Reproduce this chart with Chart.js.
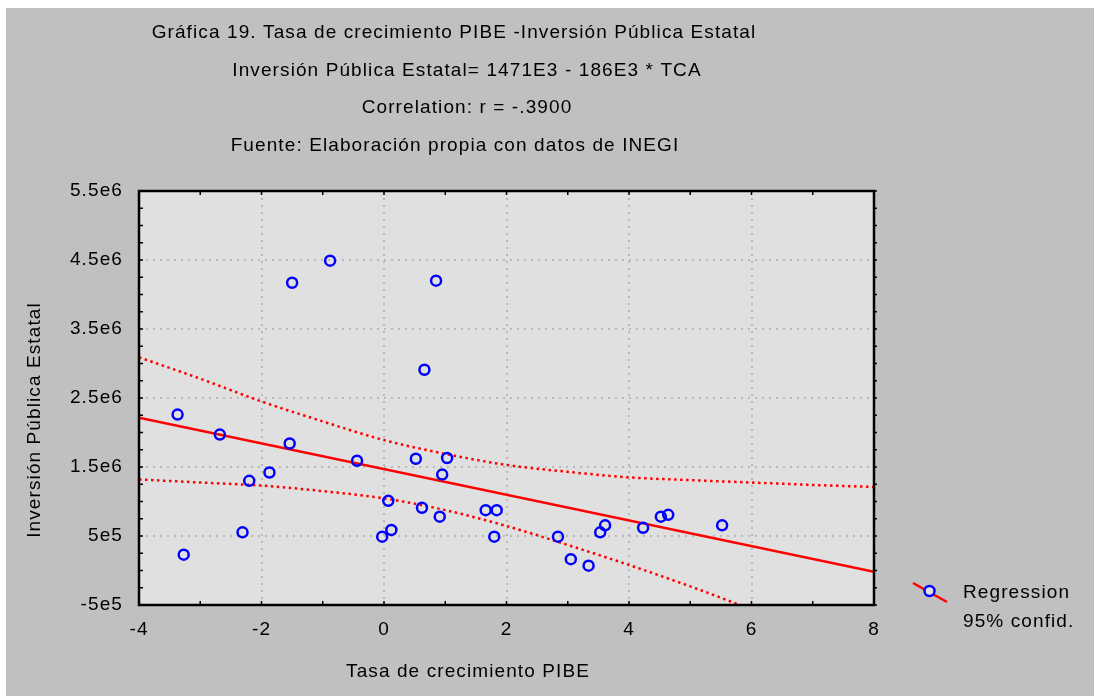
<!DOCTYPE html>
<html>
<head>
<meta charset="utf-8">
<script src="https://cdn.jsdelivr.net/npm/chart.js@4"></script>
<style>
  html, body { margin: 0; padding: 0; background: #ffffff; }
  #wrap { position: absolute; left: 6px; top: 8px; width: 1088px; height: 688px; background: #c0c0c0; }
</style>
</head>
<body>
<div id="wrap"><canvas id="chart" width="1088" height="688"></canvas></div>
<script>
  // observed values (Tasa de crecimiento PIBE vs Inversión Pública Estatal)
  const tcaValues = [-1.50, -0.88, 0.85, 0.66, -3.37, -2.68, -1.54, -0.44, 0.52, 1.03, 0.95, -1.87, -2.20, 0.07, 0.62, 0.91,
    1.66, 1.84, 1.80, -0.03, 0.12, -2.31, -3.27, 2.84, 3.05, 3.34, 3.53, 3.61, 4.23, 4.52, 4.64, 5.52];
  const inversionValues = [4170000, 4490000, 4200000, 2910000, 2260000, 1970000, 1840000, 1590000, 1620000, 1630000, 1390000,
    1420000, 1300000, 1010000, 910000, 780000, 875000, 875000, 490000, 490000, 587000, 553000, 230000, 490000, 164000,
    70000, 553000, 654000, 620000, 780000, 807000, 654000];

  // regression line end points
  const regX = [-4, 8];
  const regY = [2215000, -17000];

  // 95% confidence bands
  const upperX = [-4, -3, -2, -1, 0, 1, 2, 3, 4, 5, 6, 7, 8];
  const upperY = [3090000, 2780000, 2450000, 2160000, 1890000, 1690000, 1530000, 1430000, 1350000, 1310000, 1275000, 1240000, 1210000];
  const lowerX = [-4, -3, -2, -1, 0, 1, 2, 3, 4, 5, 5.75, 6.2];
  const lowerY = [1320000, 1275000, 1230000, 1150000, 1045000, 875000, 645000, 370000, 80000, -230000, -480000, -640000];

  const xTicks = [-4, -2, 0, 2, 4, 6, 8];
  const yTicks = [-500000, 500000, 1500000, 2500000, 3500000, 4500000, 5500000];
  const yTickLabels = ['-5e5', '5e5', '1.5e6', '2.5e6', '3.5e6', '4.5e6', '5.5e6'];

  const titleLines = [
    'Gráfica 19. Tasa de crecimiento PIBE -Inversión Pública Estatal',
    'Inversión Pública Estatal= 1471E3 - 186E3 * TCA',
    'Correlation: r = -.3900',
    'Fuente: Elaboración propia con datos de INEGI'
  ];
  const xTitle = 'Tasa de crecimiento PIBE';
  const yTitle = 'Inversión Pública Estatal';
  const legendLabels = ['Regression', '95% confid.'];

  const FONT = '"Liberation Sans", Arial, sans-serif';
  const FONT_SIZE = 19;
  const SPACING = '1.1px';
  const toXY = (xs, ys) => xs.map((x, i) => ({ x, y: ys[i] }));

  const decor = {
    id: 'decor',
    beforeDraw (chart) {
      const { ctx, chartArea: a } = chart;
      ctx.letterSpacing = SPACING;
      ctx.save();
      ctx.fillStyle = '#e0e0e0';
      ctx.fillRect(a.left, a.top, a.right - a.left, a.bottom - a.top);
      ctx.restore();
    },
    afterDraw (chart) {
      const { ctx, chartArea: a } = chart;
      const xs = chart.scales.x;
      const ys = chart.scales.y;
      ctx.save();
      ctx.letterSpacing = SPACING;

      // frame + little inner ticks
      ctx.strokeStyle = '#000';
      ctx.lineWidth = 2.5;
      ctx.strokeRect(a.left, a.top, a.right - a.left, a.bottom - a.top);
      ctx.lineWidth = 1.5;
      ctx.beginPath();
      for (let v = -4; v <= 8; v += 1) {
        const px = xs.getPixelForValue(v);
        ctx.moveTo(px, a.bottom); ctx.lineTo(px, a.bottom - 4);
        ctx.moveTo(px, a.top); ctx.lineTo(px, a.top + 4);
      }
      for (let v = -500000; v <= 5500000; v += 250000) {
        const py = ys.getPixelForValue(v);
        ctx.moveTo(a.left, py); ctx.lineTo(a.left + 4, py);
        ctx.moveTo(a.right, py); ctx.lineTo(a.right + 3, py);
      }
      ctx.stroke();

      // titles
      ctx.fillStyle = '#000';
      ctx.font = FONT_SIZE + 'px ' + FONT;
      ctx.textAlign = 'center';
      ctx.textBaseline = 'middle';
      const centers = [448, 461, 461, 449];
      const rows = [25, 63, 100, 138];
      titleLines.forEach((t, i) => ctx.fillText(t, centers[i], rows[i]));

      ctx.fillText(xTitle, 462, 664);
      ctx.save();
      ctx.translate(29, 412);
      ctx.rotate(-Math.PI / 2);
      ctx.fillText(yTitle, 0, 0);
      ctx.restore();

      // legend
      ctx.strokeStyle = '#ff0000';
      ctx.lineWidth = 2.5;
      ctx.beginPath();
      ctx.moveTo(907, 575); ctx.lineTo(941, 594);
      ctx.stroke();
      ctx.beginPath();
      ctx.arc(923.5, 583, 5, 0, Math.PI * 2);
      ctx.fillStyle = '#e0e0e0';
      ctx.fill();
      ctx.strokeStyle = '#0000ff';
      ctx.stroke();
      ctx.fillStyle = '#000';
      ctx.textAlign = 'left';
      ctx.fillText(legendLabels[0], 957, 585);
      ctx.fillText(legendLabels[1], 957, 614);
      ctx.restore();
    }
  };

  const lineDefaults = { showLine: true, pointRadius: 0, fill: false, borderColor: '#ff0000' };

  new Chart(document.getElementById('chart'), {
    type: 'scatter',
    data: {
      datasets: [
        {
          label: 'data',
          data: toXY(tcaValues, inversionValues),
          pointRadius: 5,
          pointHoverRadius: 5,
          pointBorderWidth: 2.5,
          pointBorderColor: '#0000ff',
          pointBackgroundColor: 'rgba(0,0,0,0)',
          order: 0
        },
        Object.assign({ label: 'regression', data: toXY(regX, regY), borderWidth: 2.5, order: 1 }, lineDefaults),
        Object.assign({ label: 'upper', data: toXY(upperX, upperY), borderWidth: 2.5, borderDash: [2.5, 3.5], cubicInterpolationMode: 'monotone', order: 2 }, lineDefaults),
        Object.assign({ label: 'lower', data: toXY(lowerX, lowerY), borderWidth: 2.5, borderDash: [2.5, 3.5], cubicInterpolationMode: 'monotone', order: 3 }, lineDefaults)
      ]
    },
    options: {
      responsive: false,
      animation: false,
      events: [],
      layout: { padding: { top: 183, right: 220, bottom: 0, left: 0 } },
      plugins: { legend: { display: false }, tooltip: { enabled: false }, title: { display: false } },
      scales: {
        x: {
          type: 'linear',
          min: -4,
          max: 8,
          afterFit: s => { s.height = 91; },
          afterBuildTicks: s => { s.ticks = xTicks.map(v => ({ value: v })); },
          ticks: { color: '#000', padding: 13, font: { size: FONT_SIZE, family: FONT } },
          grid: { color: '#b9b9b9', lineWidth: 2, drawTicks: false },
          border: { display: false, dash: [2, 5] }
        },
        y: {
          type: 'linear',
          min: -500000,
          max: 5500000,
          afterFit: s => { s.width = 133; },
          afterBuildTicks: s => { s.ticks = yTicks.map(v => ({ value: v })); },
          ticks: {
            color: '#000',
            padding: 16,
            font: { size: FONT_SIZE, family: FONT },
            callback: v => yTickLabels[yTicks.indexOf(v)]
          },
          grid: { color: '#b9b9b9', lineWidth: 2, drawTicks: false },
          border: { display: false, dash: [2, 5] }
        }
      }
    },
    plugins: [decor]
  });
</script>
</body>
</html>
